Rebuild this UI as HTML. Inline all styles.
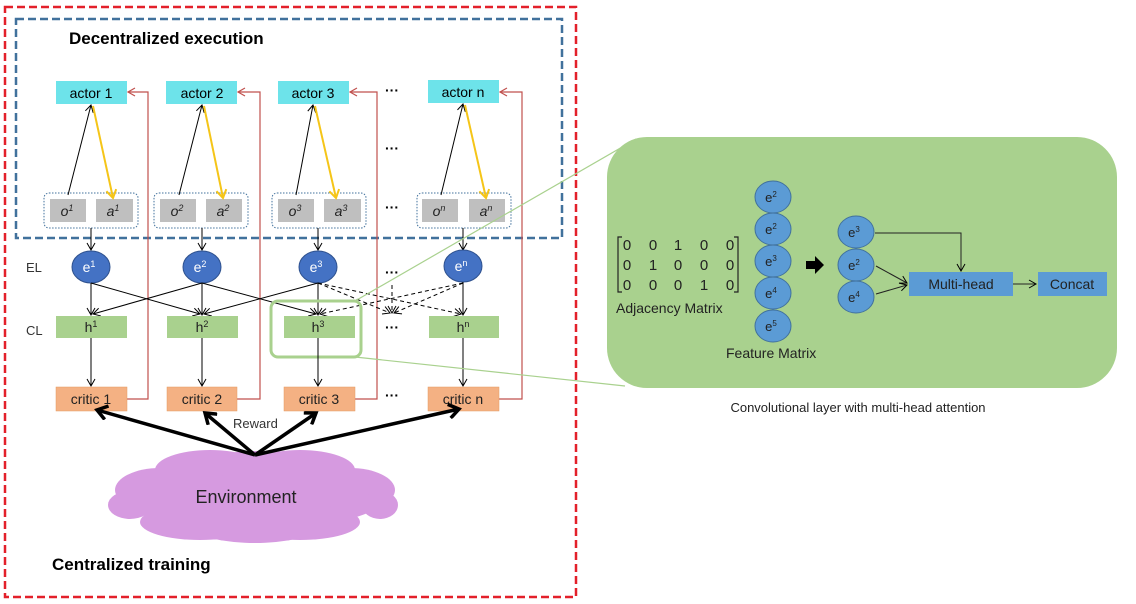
<!DOCTYPE html>
<html><head><meta charset="utf-8"><style>
html,body{margin:0;padding:0;background:#fff;}
svg{display:block;font-family:"Liberation Sans",sans-serif;}
</style></head><body>
<svg width="1136" height="604" viewBox="0 0 1136 604" xmlns="http://www.w3.org/2000/svg">
<defs>
<marker id="ab" markerWidth="10" markerHeight="10" refX="8" refY="5" orient="auto" markerUnits="userSpaceOnUse"><path d="M1,1 L8,5 L1,9" fill="none" stroke="#000" stroke-width="1"/></marker>
<marker id="ar" markerWidth="10" markerHeight="10" refX="8" refY="5" orient="auto" markerUnits="userSpaceOnUse"><path d="M1,1 L8,5 L1,9" fill="none" stroke="#c0504d" stroke-width="1.2"/></marker>
<marker id="ay" markerWidth="12" markerHeight="12" refX="9" refY="6" orient="auto" markerUnits="userSpaceOnUse"><path d="M1,1 L9,6 L1,11" fill="none" stroke="#f5c518" stroke-width="2"/></marker>
<marker id="at" markerWidth="16" markerHeight="16" refX="12" refY="8" orient="auto" markerUnits="userSpaceOnUse"><path d="M2,1 L12,8 L2,15" fill="none" stroke="#000" stroke-width="3.5"/></marker>
</defs>

<!-- outer boxes -->
<rect x="5" y="7" width="571" height="590" fill="none" stroke="#e3202a" stroke-width="2.5" stroke-dasharray="8,4"/>
<rect x="16" y="19" width="546" height="219" fill="none" stroke="#41719c" stroke-width="2.5" stroke-dasharray="8,4"/>
<text x="69" y="44" font-size="17" font-weight="bold">Decentralized execution</text>
<text x="52" y="570" font-size="17" font-weight="bold">Centralized training</text>

<!-- red feedback lines -->
<g fill="none" stroke="#c0504d" stroke-width="1.2" marker-end="url(#ar)">
<path d="M127,399 H148 V92 H128"/>
<path d="M237,399 H260 V92 H238"/>
<path d="M355,399 H377 V92 H350"/>
<path d="M499,399 H522 V92 H500"/>
</g>

<!-- actors -->
<g font-size="14" text-anchor="middle">
<rect x="56" y="81" width="71" height="23" fill="#6de3ea"/><text x="91" y="98">actor 1</text>
<rect x="166" y="81" width="71" height="23" fill="#6de3ea"/><text x="202" y="98">actor 2</text>
<rect x="278" y="81" width="71" height="23" fill="#6de3ea"/><text x="313" y="98">actor 3</text>
<rect x="428" y="80" width="71" height="23" fill="#6de3ea"/><text x="463" y="97">actor n</text>
</g>

<!-- dots -->
<g font-size="14" text-anchor="middle" font-weight="bold">
<text x="392" y="95">···</text><text x="392" y="153">···</text><text x="392" y="212">···</text>
<text x="392" y="277">···</text><text x="392" y="332">···</text><text x="392" y="400">···</text>
</g>

<!-- o/a groups -->
<g fill="none" stroke="#41719c" stroke-width="1" stroke-dasharray="1.5,1.5">
<rect x="44" y="193" width="94" height="35" rx="5"/>
<rect x="154" y="193" width="94" height="35" rx="5"/>
<rect x="272" y="193" width="94" height="35" rx="5"/>
<rect x="417" y="193" width="94" height="35" rx="5"/>
</g>
<g fill="#bfbfbf">
<rect x="50" y="199" width="36" height="23"/><rect x="96" y="199" width="37" height="23"/>
<rect x="160" y="199" width="36" height="23"/><rect x="206" y="199" width="36" height="23"/>
<rect x="278" y="199" width="36" height="23"/><rect x="324" y="199" width="37" height="23"/>
<rect x="422" y="199" width="36" height="23"/><rect x="469" y="199" width="36" height="23"/>
</g>
<g font-size="14" font-style="italic" text-anchor="middle" fill="#222">
<text x="67" y="216">o<tspan font-size="9" dy="-5">1</tspan></text><text x="113" y="216">a<tspan font-size="9" dy="-5">1</tspan></text>
<text x="177" y="216">o<tspan font-size="9" dy="-5">2</tspan></text><text x="223" y="216">a<tspan font-size="9" dy="-5">2</tspan></text>
<text x="295" y="216">o<tspan font-size="9" dy="-5">3</tspan></text><text x="341" y="216">a<tspan font-size="9" dy="-5">3</tspan></text>
<text x="439" y="216">o<tspan font-size="9" dy="-5">n</tspan></text><text x="486" y="216">a<tspan font-size="9" dy="-5">n</tspan></text>
</g>

<!-- o->actor, actor->a -->
<g stroke="#000" stroke-width="1" marker-end="url(#ab)">
<line x1="68" y1="195" x2="91" y2="105"/>
<line x1="179" y1="195" x2="202" y2="105"/>
<line x1="296" y1="195" x2="313" y2="105"/>
<line x1="441" y1="195" x2="463" y2="104"/>
</g>
<g stroke="#f5c518" stroke-width="2" marker-end="url(#ay)">
<line x1="93" y1="106" x2="113" y2="198"/>
<line x1="204" y1="106" x2="223" y2="198"/>
<line x1="315" y1="106" x2="336" y2="198"/>
<line x1="465" y1="105" x2="486" y2="198"/>
</g>

<!-- group -> e -->
<g stroke="#000" stroke-width="1" marker-end="url(#ab)">
<line x1="91" y1="228" x2="91" y2="250"/>
<line x1="202" y1="228" x2="202" y2="250"/>
<line x1="318" y1="228" x2="318" y2="250"/>
<line x1="463" y1="228" x2="463" y2="250"/>
</g>

<text x="26" y="272" font-size="13" fill="#333">EL</text>
<text x="26" y="335" font-size="13" fill="#333">CL</text>

<!-- e nodes -->
<g fill="#4472c4" stroke="#2f528f" stroke-width="1">
<ellipse cx="91" cy="267" rx="19" ry="16"/><ellipse cx="202" cy="267" rx="19" ry="16"/>
<ellipse cx="318" cy="267" rx="19" ry="16"/><ellipse cx="463" cy="266" rx="19" ry="16"/>
</g>
<g font-size="14" fill="#fff" text-anchor="middle">
<text x="89" y="272">e<tspan font-size="9" dy="-5">1</tspan></text>
<text x="200" y="272">e<tspan font-size="9" dy="-5">2</tspan></text>
<text x="316" y="272">e<tspan font-size="9" dy="-5">3</tspan></text>
<text x="461" y="271">e<tspan font-size="9" dy="-5">n</tspan></text>
</g>

<!-- e -> h -->
<g stroke="#000" stroke-width="1" marker-end="url(#ab)">
<line x1="91" y1="283" x2="91" y2="315"/>
<line x1="202" y1="283" x2="202" y2="315"/>
<line x1="318" y1="283" x2="318" y2="315"/>
<line x1="463" y1="282" x2="463" y2="315"/>
<line x1="91" y1="283" x2="200" y2="314"/>
<line x1="202" y1="283" x2="93" y2="314"/>
<line x1="202" y1="283" x2="316" y2="314"/>
<line x1="318" y1="283" x2="204" y2="314"/>
</g>
<g stroke="#000" stroke-width="1" stroke-dasharray="4,3" marker-end="url(#ab)">
<line x1="318" y1="283" x2="390" y2="313"/>
<line x1="318" y1="283" x2="461" y2="314"/>
<line x1="463" y1="283" x2="320" y2="314"/>
<line x1="463" y1="283" x2="394" y2="313"/>
<line x1="392" y1="285" x2="392" y2="313"/>
</g>

<!-- h nodes -->
<g fill="#a9d18e">
<rect x="56" y="316" width="71" height="22"/><rect x="167" y="316" width="71" height="22"/>
<rect x="284" y="316" width="71" height="22"/><rect x="429" y="316" width="70" height="22"/>
</g>
<g font-size="14" text-anchor="middle" fill="#222">
<text x="91" y="332">h<tspan font-size="9" dy="-5">1</tspan></text>
<text x="202" y="332">h<tspan font-size="9" dy="-5">2</tspan></text>
<text x="318" y="332">h<tspan font-size="9" dy="-5">3</tspan></text>
<text x="463" y="332">h<tspan font-size="9" dy="-5">n</tspan></text>
</g>
<rect x="271" y="301" width="90" height="56" rx="7" fill="none" stroke="#a9d18e" stroke-width="3"/>

<!-- h -> critic -->
<g stroke="#000" stroke-width="1" marker-end="url(#ab)">
<line x1="91" y1="338" x2="91" y2="386"/>
<line x1="202" y1="338" x2="202" y2="386"/>
<line x1="318" y1="338" x2="318" y2="386"/>
<line x1="463" y1="338" x2="463" y2="386"/>
</g>

<!-- critics -->
<g fill="#f4b183" stroke="#e59a62" stroke-width="0.5">
<rect x="56" y="387" width="71" height="24"/><rect x="167" y="387" width="70" height="24"/>
<rect x="284" y="387" width="71" height="24"/><rect x="428" y="387" width="71" height="24"/>
</g>
<g font-size="14" text-anchor="middle" fill="#222">
<text x="91" y="404">critic 1</text><text x="202" y="404">critic 2</text>
<text x="319" y="404">critic 3</text><text x="463" y="404">critic n</text>
</g>

<!-- environment cloud -->
<g fill="#d69ae0">
<ellipse cx="255" cy="497" rx="130" ry="32"/>
<ellipse cx="160" cy="490" rx="45" ry="22"/>
<ellipse cx="350" cy="490" rx="45" ry="22"/>
<ellipse cx="210" cy="470" rx="55" ry="20"/>
<ellipse cx="300" cy="470" rx="55" ry="20"/>
<ellipse cx="255" cy="465" rx="50" ry="14"/>
<ellipse cx="200" cy="522" rx="60" ry="18"/>
<ellipse cx="300" cy="522" rx="60" ry="18"/>
<ellipse cx="255" cy="530" rx="55" ry="13"/>
<ellipse cx="130" cy="505" rx="22" ry="14"/>
<ellipse cx="380" cy="505" rx="18" ry="14"/>
</g>
<text x="246" y="503" font-size="18" text-anchor="middle" fill="#222">Environment</text>

<g stroke="#000" stroke-width="3.5" marker-end="url(#at)">
<line x1="255" y1="455" x2="97" y2="410"/>
<line x1="255" y1="455" x2="205" y2="413"/>
<line x1="255" y1="455" x2="316" y2="413"/>
<line x1="255" y1="455" x2="459" y2="409"/>
</g>
<text x="233" y="428" font-size="13" fill="#333">Reward</text>

<!-- green callout lines -->
<line x1="355" y1="301" x2="636" y2="139" stroke="#a9d18e" stroke-width="1.2"/>
<line x1="355" y1="357" x2="625" y2="386" stroke="#a9d18e" stroke-width="1.2"/>

<!-- green panel -->
<rect x="607" y="137" width="510" height="251" rx="40" fill="#a9d18e"/>
<g font-size="15" fill="#222" text-anchor="middle">
<text x="627" y="250">0</text><text x="653" y="250">0</text><text x="678" y="250">1</text><text x="704" y="250">0</text><text x="730" y="250">0</text>
<text x="627" y="270">0</text><text x="653" y="270">1</text><text x="678" y="270">0</text><text x="704" y="270">0</text><text x="730" y="270">0</text>
<text x="627" y="290">0</text><text x="653" y="290">0</text><text x="678" y="290">0</text><text x="704" y="290">1</text><text x="730" y="290">0</text>
</g>
<path d="M622,237 H618 V292 H622 M734,237 H738 V292 H734" fill="none" stroke="#222" stroke-width="1.2"/>
<text x="616" y="313" font-size="14" fill="#222">Adjacency Matrix</text>

<g fill="#5b9bd5" stroke="#41719c" stroke-width="1">
<ellipse cx="773" cy="197" rx="18" ry="16"/><ellipse cx="773" cy="229" rx="18" ry="16"/>
<ellipse cx="773" cy="261" rx="18" ry="16"/><ellipse cx="773" cy="293" rx="18" ry="16"/>
<ellipse cx="773" cy="326" rx="18" ry="16"/>
<ellipse cx="856" cy="232" rx="18" ry="16"/><ellipse cx="856" cy="265" rx="18" ry="16"/>
<ellipse cx="856" cy="297" rx="18" ry="16"/>
</g>
<g font-size="13" fill="#222" text-anchor="middle">
<text x="771" y="202">e<tspan font-size="8" dy="-5">2</tspan></text>
<text x="771" y="234">e<tspan font-size="8" dy="-5">2</tspan></text>
<text x="771" y="266">e<tspan font-size="8" dy="-5">3</tspan></text>
<text x="771" y="298">e<tspan font-size="8" dy="-5">4</tspan></text>
<text x="771" y="331">e<tspan font-size="8" dy="-5">5</tspan></text>
<text x="854" y="237">e<tspan font-size="8" dy="-5">3</tspan></text>
<text x="854" y="270">e<tspan font-size="8" dy="-5">2</tspan></text>
<text x="854" y="302">e<tspan font-size="8" dy="-5">4</tspan></text>
</g>
<text x="726" y="358" font-size="14" fill="#222">Feature Matrix</text>
<path d="M806,261 H815 V256 L824,265 L815,274 V269 H806 Z" fill="#000"/>

<g stroke="#222" stroke-width="1" fill="none" marker-end="url(#ab)">
<path d="M875,233 H961 V271"/>
<line x1="876" y1="266" x2="907" y2="283"/>
<line x1="876" y1="294" x2="907" y2="285"/>
<line x1="1013" y1="284" x2="1036" y2="284"/>
</g>
<rect x="909" y="272" width="104" height="24" fill="#5b9bd5"/>
<rect x="1038" y="272" width="69" height="24" fill="#5b9bd5"/>
<text x="961" y="289" font-size="14" text-anchor="middle" fill="#222">Multi-head</text>
<text x="1072" y="289" font-size="14" text-anchor="middle" fill="#222">Concat</text>

<text x="858" y="412" font-size="13" text-anchor="middle" fill="#222">Convolutional layer with multi-head attention</text>
</svg>
</body></html>
